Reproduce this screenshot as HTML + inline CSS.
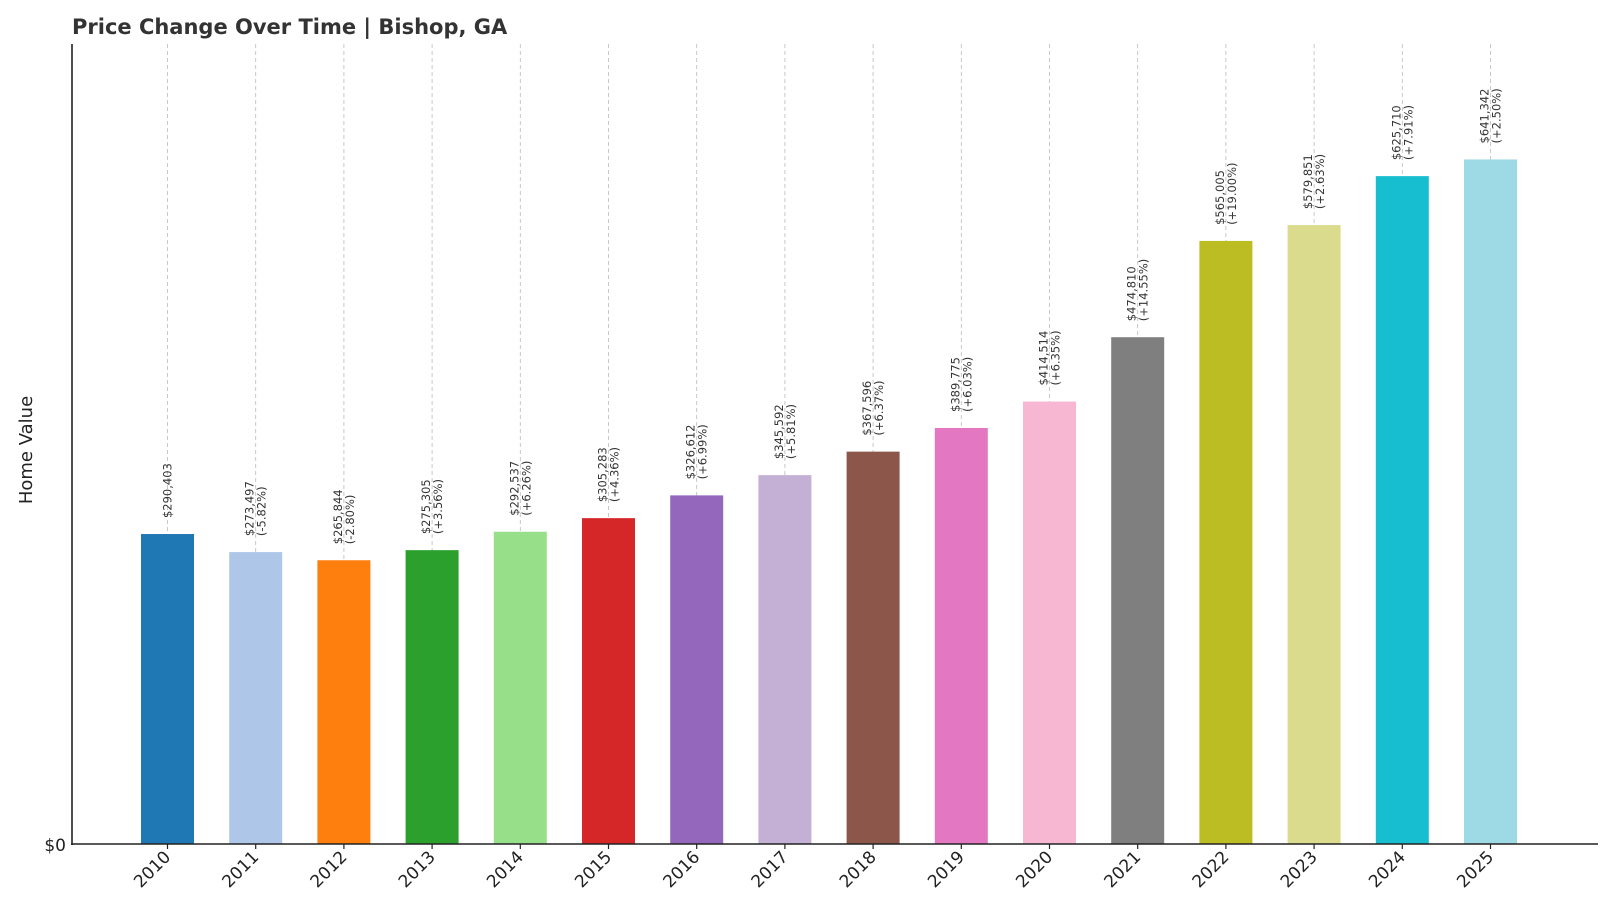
<!DOCTYPE html>
<html><head><meta charset="utf-8"><style>
body{margin:0;background:#fff;}
svg{font-family:"DejaVu Sans","Liberation Sans",sans-serif;}
</style></head><body>
<svg id="chart" width="1600" height="914" xmlns="http://www.w3.org/2000/svg">
<text x="72" y="34" font-size="21" font-weight="bold" fill="#333">Price Change Over Time | Bishop, GA</text>
<text transform="translate(32,450) rotate(-90)" text-anchor="middle" font-size="18" fill="#222">Home Value</text>
<g id="grid"></g><g id="bars"></g><g id="labels"></g><g id="xticks"></g>
<line x1="72" y1="44" x2="72" y2="845" stroke="#222" stroke-width="1.6"/>
<line x1="71" y1="844" x2="1598" y2="844" stroke="#222" stroke-width="1.6"/>
<text x="66" y="851" text-anchor="end" font-size="17" fill="#222">$0</text>
</svg>
<script>
const years=["2010","2011","2012","2013","2014","2015","2016","2017","2018","2019","2020","2021","2022","2023","2024","2025"];
const values=[290403,273497,265844,275305,292537,305283,326612,345592,367596,389775,414514,474810,565005,579851,625710,641342];
const changes=["","-5.82%","-2.80%","+3.56%","+6.26%","+4.36%","+6.99%","+5.81%","+6.37%","+6.03%","+6.35%","+14.55%","+19.00%","+2.63%","+7.91%","+2.50%"];
const colors=["#1f77b4","#aec7e8","#ff7f0e","#2ca02c","#98df8a","#d62728","#9467bd","#c5b0d5","#8c564b","#e377c2","#f7b6d2","#7f7f7f","#bcbd22","#dbdb8d","#17becf","#9edae5"];
const yMax=749500;
const ns="http://www.w3.org/2000/svg";
const x0=167.5, step=88.2, bw=53, yBase=844, plotH=800;
const xS=i=>x0+i*step;
const yS=v=>yBase-v/yMax*plotH;
const G=id=>document.getElementById(id);
function mk(t,a){const e=document.createElementNS(ns,t);for(const k in a)e.setAttribute(k,a[k]);return e;}
values.forEach((v,i)=>{
  const cx=xS(i);
  const gl=mk('line',{x1:cx,y1:44,x2:cx,y2:yBase,stroke:'#bbb','stroke-width':0.8,'stroke-dasharray':'4,3'});
  
  
  G('grid').appendChild(gl);
  const r=mk('rect',{x:cx-bw/2,y:yS(v),width:bw,height:yBase-yS(v),fill:colors[i]});
  
  
  G('bars').appendChild(r);
  const gl2=mk('line',{x1:cx,y1:yS(v),x2:cx,y2:yBase,stroke:'#fff','stroke-opacity':0.35,'stroke-width':0.8,'stroke-dasharray':'4,3'});
  
  
  G('grid').appendChild(gl2);
  const ly=yS(v)-16;
  const t=mk('text',{transform:`translate(${cx},${ly}) rotate(-90)`,'font-size':11.5,fill:'#333'});
  
  
  const money='$'+v.toLocaleString('en-US');
  if(changes[i]){
    const a=mk('tspan',{x:0,y:-2});a.textContent=money;t.appendChild(a);
    const b=mk('tspan',{x:0,y:10});b.textContent='('+changes[i]+')';t.appendChild(b);
  } else {
    const a=mk('tspan',{x:0,y:4});a.textContent=money;t.appendChild(a);
  }
  G('labels').appendChild(t);
  const tk=mk('line',{x1:cx,y1:yBase,x2:cx,y2:yBase+5,stroke:'#222','stroke-width':1.2});
  
  
  G('xticks').appendChild(tk);
  const xl=mk('text',{transform:`translate(${cx+4},${yBase+14}) rotate(-45)`,'text-anchor':'end','font-size':17,fill:'#222'});
  
  
  xl.textContent=years[i];
  G('xticks').appendChild(xl);
});
</script>
</body></html>
